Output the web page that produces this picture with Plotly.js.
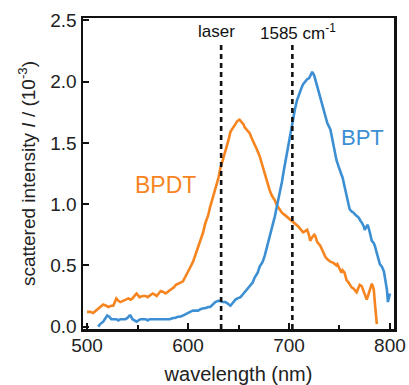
<!DOCTYPE html>
<html>
<head>
<meta charset="utf-8">
<script src="https://cdn.plot.ly/plotly-3.0.1.min.js"></script>
<style>
  html, body { margin: 0; padding: 0; background: #fff; }
  #chart { width: 409px; height: 385px; }
</style>
</head>
<body>
<div id="chart"></div>
<script>
// Dark-field scattering spectra of the two molecular junctions (intensity in units of 1e-3)
const bpdtWavelength = [500, 503, 506, 509, 511, 514, 516, 519, 521, 524, 526, 529, 531, 533, 536, 539, 541, 543, 545, 547,
  549, 551, 552, 555, 558, 560, 563, 565, 567, 569, 571, 573, 576, 578, 581, 583, 586, 588, 591, 593,
  595, 597, 600, 602, 605, 607, 610, 612, 615, 617, 620, 622, 625, 627, 630, 632, 635, 637, 640, 642,
  645, 647, 649, 651, 653, 655, 656, 658, 661, 663, 666, 668, 671, 673, 676, 678, 681, 683, 686, 688,
  691, 693, 696, 699, 702, 704, 706, 709, 711, 714, 716, 718, 720, 721, 723, 725, 726, 728, 731, 733,
  736, 738, 741, 744, 747, 748, 750, 752, 753, 755, 757, 759, 762, 764, 767, 769, 770, 772, 773, 775,
  777, 779, 781, 782, 783, 784, 785, 787];
const bpdtIntensity = [0.12, 0.12, 0.11, 0.13, 0.15, 0.17, 0.18, 0.17, 0.16, 0.17, 0.17, 0.23, 0.21, 0.20, 0.21, 0.22, 0.23, 0.22, 0.23, 0.25,
  0.27, 0.25, 0.24, 0.25, 0.25, 0.24, 0.26, 0.27, 0.26, 0.25, 0.27, 0.29, 0.28, 0.27, 0.29, 0.30, 0.32, 0.34, 0.35, 0.36,
  0.37, 0.40, 0.44, 0.48, 0.53, 0.58, 0.64, 0.70, 0.77, 0.84, 0.91, 0.98, 1.06, 1.13, 1.21, 1.29, 1.37, 1.44, 1.52, 1.59,
  1.63, 1.66, 1.68, 1.69, 1.67, 1.65, 1.63, 1.61, 1.58, 1.54, 1.49, 1.45, 1.39, 1.33, 1.26, 1.19, 1.11, 1.07, 1.03, 0.99,
  0.95, 0.93, 0.91, 0.89, 0.87, 0.85, 0.84, 0.82, 0.80, 0.77, 0.78, 0.79, 0.74, 0.70, 0.73, 0.75, 0.74, 0.69, 0.66, 0.62,
  0.57, 0.55, 0.53, 0.52, 0.50, 0.51, 0.48, 0.44, 0.46, 0.44, 0.38, 0.36, 0.32, 0.31, 0.28, 0.32, 0.34, 0.33, 0.31, 0.27,
  0.22, 0.27, 0.33, 0.35, 0.33, 0.30, 0.20, 0.02];

const bptWavelength = [511, 513, 516, 518, 520, 522, 524, 527, 529, 531, 533, 536, 538, 540, 542, 543, 545, 547, 549, 551,
  553, 556, 558, 560, 562, 565, 567, 570, 572, 575, 577, 580, 582, 585, 587, 590, 592, 595, 597, 600,
  602, 605, 608, 610, 612, 615, 617, 620, 622, 625, 627, 630, 632, 634, 637, 639, 642, 644, 647, 649,
  652, 654, 656, 659, 661, 664, 666, 669, 671, 674, 676, 678, 681, 683, 686, 688, 691, 693, 695, 698,
  701, 703, 706, 708, 710, 712, 714, 716, 718, 720, 722, 723, 725, 726, 728, 730, 732, 734, 736, 738,
  741, 743, 745, 747, 749, 750, 752, 753, 755, 757, 759, 760, 762, 764, 766, 769, 771, 772, 774, 775,
  777, 778, 780, 782, 784, 785, 787, 788, 790, 792, 794, 795, 797, 798, 799, 800];
const bptIntensity = [0.00, 0.02, 0.04, 0.07, 0.09, 0.08, 0.06, 0.06, 0.06, 0.05, 0.06, 0.06, 0.06, 0.07, 0.09, 0.09, 0.06, 0.05, 0.04, 0.05,
  0.06, 0.06, 0.06, 0.05, 0.06, 0.06, 0.06, 0.06, 0.06, 0.06, 0.06, 0.06, 0.06, 0.07, 0.07, 0.08, 0.08, 0.09, 0.10, 0.11,
  0.12, 0.13, 0.13, 0.13, 0.14, 0.15, 0.15, 0.16, 0.16, 0.18, 0.20, 0.21, 0.21, 0.20, 0.20, 0.19, 0.17, 0.19, 0.22, 0.23,
  0.24, 0.26, 0.28, 0.31, 0.33, 0.36, 0.40, 0.44, 0.49, 0.53, 0.58, 0.64, 0.73, 0.81, 0.90, 0.98, 1.09, 1.18, 1.28, 1.42,
  1.56, 1.66, 1.78, 1.85, 1.90, 1.94, 1.98, 2.00, 2.02, 2.03, 2.06, 2.08, 2.05, 2.02, 1.96, 1.90, 1.85, 1.79, 1.71, 1.66,
  1.61, 1.52, 1.44, 1.36, 1.31, 1.28, 1.24, 1.22, 1.15, 1.09, 1.01, 0.96, 0.94, 0.93, 0.91, 0.89, 0.86, 0.85, 0.82, 0.79,
  0.82, 0.83, 0.77, 0.70, 0.68, 0.66, 0.60, 0.56, 0.51, 0.49, 0.45, 0.40, 0.30, 0.20, 0.23, 0.27];

const seriesNames = ['BPDT', 'BPT'];
const tickValuesX = [500, 600, 700, 800];
const tickValuesY = [0, 0.5, 1.0, 1.5, 2.0, 2.5];

// excitation laser and the position of the 1585 cm-1 Raman line (Stokes side)
const laserNm = 632.8;
const ramanShiftCm = 1585;
const ramanLineNm = 1e7 / (1e7 / laserNm - ramanShiftCm);

const ORANGE = '#f6841f';
const BLUE = '#3d8fd3';
const FONT = 'Liberation Sans, Arial, sans-serif';

const traces = [
  { x: bpdtWavelength, y: bpdtIntensity, name: seriesNames[0], mode: 'lines',
    line: { color: ORANGE, width: 2.6 } },
  { x: bptWavelength, y: bptIntensity, name: seriesNames[1], mode: 'lines',
    line: { color: BLUE, width: 2.6 } }
];

const dashed = { color: '#111', width: 2.6, dash: '5px,4px' };
const yMin = -0.02;

const layout = {
  width: 409, height: 385,
  margin: { l: 83, r: 15, t: 18, b: 56 },
  paper_bgcolor: '#fff', plot_bgcolor: '#fff',
  showlegend: false,
  font: { family: FONT, size: 19, color: '#222' },
  xaxis: {
    range: [496, 804],
    tickvals: tickValuesX,
    ticks: 'inside', ticklen: 6, tickwidth: 2, tickcolor: '#111',
    minor: { tickvals: [550, 650, 750], ticks: 'inside', ticklen: 4, tickwidth: 2, tickcolor: '#111' },
    showline: true, linewidth: 2.5, linecolor: '#111', mirror: true,
    showgrid: false, zeroline: false,
    tickfont: { size: 19, color: '#222' },
    ticklabelstandoff: -2,
    title: { text: 'wavelength (nm)', font: { size: 20, color: '#222' }, standoff: 16 }
  },
  yaxis: {
    range: [yMin, 2.52],
    tickvals: tickValuesY,
    tickformat: '.1f',
    ticks: 'inside', ticklen: 6, tickwidth: 2, tickcolor: '#111',
    showline: true, linewidth: 2.5, linecolor: '#111', mirror: true,
    showgrid: false, zeroline: false,
    tickfont: { size: 19, color: '#222' },
    title: { text: 'scattered intensity <i>I</i> / (10<sup>-3</sup>)', font: { size: 19, color: '#222' }, standoff: 10 }
  },
  shapes: [
    { type: 'line', xref: 'x', yref: 'y', x0: laserNm, x1: laserNm, y0: yMin, y1: 2.33, line: dashed },
    { type: 'line', xref: 'x', yref: 'y', x0: ramanLineNm, x1: ramanLineNm, y0: yMin, y1: 2.33, line: dashed }
  ],
  annotations: [
    { x: 578, y: 1.16, xref: 'x', yref: 'y', text: seriesNames[0], showarrow: false,
      font: { size: 23, color: ORANGE } },
    { x: 773, y: 1.54, xref: 'x', yref: 'y', text: seriesNames[1], showarrow: false,
      font: { size: 22, color: BLUE } },
    { x: laserNm - 5, y: 0.955, xref: 'x', yref: 'paper', yanchor: 'middle', text: 'laser', showarrow: false,
      font: { size: 17, color: '#111' } },
    { x: ramanLineNm + 6, y: 0.955, xref: 'x', yref: 'paper', yanchor: 'middle', text: ramanShiftCm + ' cm<sup>-1</sup>', showarrow: false,
      font: { size: 17, color: '#111' } }
  ]
};

Plotly.newPlot('chart', traces, layout, { displayModeBar: false, staticPlot: true });
</script>
</body>
</html>
